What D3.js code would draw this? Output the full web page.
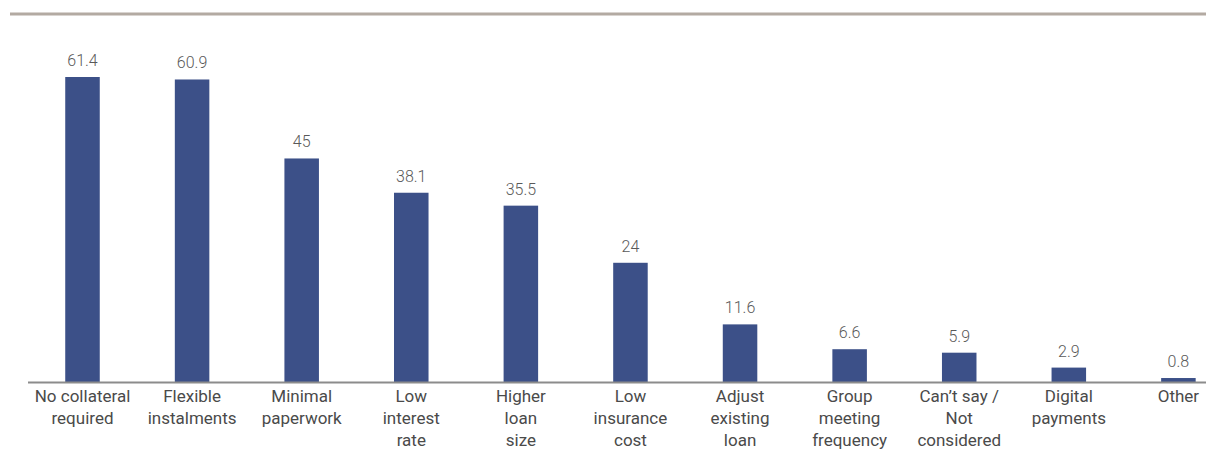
<!DOCTYPE html>
<html>
<head>
<meta charset="utf-8">
<script src="https://cdn.jsdelivr.net/npm/d3@7"></script>
<style>
  html, body { margin: 0; padding: 0; background: #fff; }
  svg { display: block; }
</style>
</head>
<body>
<svg id="chart" width="1206" height="472"></svg>
<script>
// Reasons for choosing a loan product (% of respondents)
const categories = [
  ["No collateral", "required"],
  ["Flexible", "instalments"],
  ["Minimal", "paperwork"],
  ["Low", "interest", "rate"],
  ["Higher", "loan", "size"],
  ["Low", "insurance", "cost"],
  ["Adjust", "existing", "loan"],
  ["Group", "meeting", "frequency"],
  ["Can\u2019t say /", "Not", "considered"],
  ["Digital", "payments"],
  ["Other"]
];
const values = [61.4, 60.9, 45, 38.1, 35.5, 24, 11.6, 6.6, 5.9, 2.9, 0.8];
const valueLabels = ["61.4", "60.9", "45", "38.1", "35.5", "24", "11.6", "6.6", "5.9", "2.9", "0.8"];

const svg = d3.select("#chart");
const W = 1206, H = 472;
const baseY = 382;

const keys = categories.map((c, i) => i);
const x = d3.scaleBand().domain(keys).range([27.7, 1233.2]).paddingInner(0.685).paddingOuter(0.3425);
const y = d3.scaleLinear().domain([0, 61.4]).range([baseY, 77]);

// top rule
svg.append("line")
  .attr("x1", 10).attr("x2", W).attr("y1", 14).attr("y2", 14)
  .attr("stroke", "#b3aaa2").attr("stroke-width", 3);

// bars
svg.append("g").selectAll("rect")
  .data(values)
  .join("rect")
  .attr("x", (d, i) => x(i))
  .attr("width", x.bandwidth())
  .attr("y", d => y(d))
  .attr("height", d => baseY - y(d))
  .attr("fill", "#3c5088");

// value labels
svg.append("g").selectAll("text")
  .data(values)
  .join("text")
  .attr("x", (d, i) => x(i) + x.bandwidth() / 2)
  .attr("y", d => y(d) - 11)
  .attr("text-anchor", "middle")
  .attr("font-family", "Roboto, sans-serif")
  .attr("font-weight", 300)
  .attr("font-size", 16)
  .attr("fill", "#595959")
  .text((d, i) => valueLabels[i]);

// category axis
const axis = d3.axisBottom(x).tickSize(0).tickFormat(() => "");
const gx = svg.append("g").attr("transform", `translate(0,${baseY})`).call(axis);
gx.select(".domain").remove();
svg.append("line")
  .attr("x1", 28).attr("x2", W).attr("y1", baseY + 0.5).attr("y2", baseY + 0.5)
  .attr("stroke", "#8c8c8c").attr("stroke-width", 2);

gx.selectAll(".tick").each(function(i) {
  const t = d3.select(this).append("text")
    .attr("text-anchor", "middle")
    .attr("font-family", "Roboto, sans-serif")
    .attr("font-size", 17)
    .attr("fill", "#4a4a4a");
  categories[i].forEach((line, k) => {
    t.append("tspan").attr("x", 0).attr("y", 20 + k * 22).text(line);
  });
});
</script>
</body>
</html>
